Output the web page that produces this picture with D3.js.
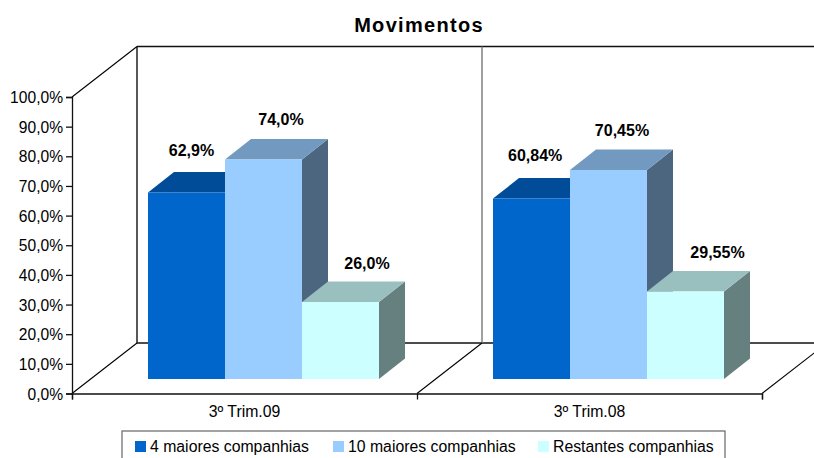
<!DOCTYPE html>
<html><head><meta charset="utf-8">
<script src="https://cdn.jsdelivr.net/npm/d3@7/dist/d3.min.js"></script>
<style>html,body{margin:0;padding:0;background:#fff;overflow:hidden}svg{display:block}text{font-family:"Liberation Sans",Arial,sans-serif;fill:#000}</style>
</head><body><svg id="c" width="814" height="458"></svg>
<script>
const categories = ["3º Trim.09", "3º Trim.08"];
const seriesNames = ["4 maiores companhias", "10 maiores companhias", "Restantes companhias"];
const series4 = [62.9, 60.84];
const series10 = [74.0, 70.45];
const seriesRest = [26.0, 29.55];
const labels4 = ["62,9%", "60,84%"];
const labels10 = ["74,0%", "70,45%"];
const labelsRest = ["26,0%", "29,55%"];
const yTicks = [0,10,20,30,40,50,60,70,80,90,100];

const frontColors = ["#0066CC", "#99CCFF", "#CCFFFF"];
const topColors = ["#004C99", "#7299BF", "#99BFBF"];
const sideColors = ["#003D7A", "#4D6680", "#668080"];
// hand-placed label nudges of the original, per [category][series]
const labelDx = [[5, 17.5, 26.5], [3.7, 13.5, 32]];
const labelDy = [[-42, -40, -39], [-43, -40, -39]];
const legendLeft = [135, 333, 538];

const svg = d3.select("#c");
const W = 814;
const wall = {dx: 65, dy: -50.5};
const floorY = 393.5, topY = 97;
const y = d3.scaleLinear().domain([0, 100]).range([floorY, topY]);
const x = d3.scaleBand().domain(categories).range([72, 762]);
const xEdge = d3.scaleLinear().domain([0, categories.length]).range([72, 762]);
const inner = d3.scaleBand().domain(d3.range(3)).range([57, x.bandwidth() - 57]);
const barShift = {dx: 19, dy: -14.5};
const barDepth = {dx: 26, dy: -20.5};

const ln = (x1,y1,x2,y2,c,w) => svg.append("line").attr("x1",x1).attr("y1",y1).attr("x2",x2).attr("y2",y2)
  .attr("stroke",c).attr("stroke-width",w);

// walls
const yBack = v => y(v) + wall.dy;
ln(72 + wall.dx, yBack(100), W, yBack(100), "#111", 1.4);
ln(72 + wall.dx, yBack(0), W, yBack(0), "#111", 1.4);
ln(72 + wall.dx, yBack(100), 72 + wall.dx, yBack(0), "#111", 1.4);
ln(xEdge(1) + wall.dx, yBack(100), xEdge(1) + wall.dx, yBack(0), "#777", 1.4);
ln(72, y(100), 72 + wall.dx, yBack(100), "#000", 1.1);
d3.range(categories.length + 1).forEach(i =>
  ln(xEdge(i), y(0), xEdge(i) + wall.dx, yBack(0), "#000", 1.1));

// bars
const values = [series4, series10, seriesRest];
const poly = (pts, c) => svg.append("polygon").attr("points", pts.map(p => p.join(",")).join(" ")).attr("fill", c);
categories.forEach((cat, ci) => {
  values.forEach((vals, si) => {
    const x0 = x(cat) + inner(si) + barShift.dx, x1 = x0 + inner.bandwidth();
    const yb = y(0) + barShift.dy, yt = y(vals[ci]) + barShift.dy;
    const d = barDepth;
    poly([[x1,yt],[x1+d.dx,yt+d.dy],[x1+d.dx,yb+d.dy],[x1,yb]], sideColors[si]);
    poly([[x0,yt],[x0+d.dx,yt+d.dy],[x1+d.dx,yt+d.dy],[x1,yt]], topColors[si]);
    poly([[x0,yt],[x1,yt],[x1,yb],[x0,yb]], frontColors[si]);
  });
});

// axes
const yAxis = d3.axisLeft(y).tickValues(yTicks).tickSize(6).tickPadding(3)
  .tickFormat(v => d3.format(".1f")(v).replace(".", ",") + "%");
const gy = svg.append("g").attr("transform", "translate(72,0)").call(yAxis);
const gxE = svg.append("g").attr("transform", `translate(0,${floorY})`)
  .call(d3.axisBottom(xEdge).tickValues(d3.range(categories.length + 1)).tickSize(6).tickFormat(""));
const gx = svg.append("g").attr("transform", `translate(0,${floorY})`)
  .call(d3.axisBottom(x).tickSize(0).tickPadding(12));
[gy, gxE, gx].forEach(g => { g.selectAll(".domain,.tick line").attr("stroke", "#111").attr("stroke-width", 1.3); });
gx.select(".domain").remove();
gy.selectAll("text").style("font-size", "15.6px").attr("fill", "#000").attr("dy", "0.36em");
gx.selectAll("text").style("font-size", "15.8px").attr("fill", "#000");

// value labels
const lab = [labels4, labels10, labelsRest];
categories.forEach((cat, ci) => lab.forEach((ls, si) => {
  svg.append("text")
    .attr("x", x(cat) + inner(si) + barShift.dx + inner.bandwidth() / 2 + labelDx[ci][si])
    .attr("y", y(values[si][ci]) + barShift.dy + labelDy[ci][si])
    .attr("dy", "0.36em").attr("text-anchor", "middle")
    .style("font-size", "16px").style("font-weight", "bold").text(ls[ci]);
}));

// title
svg.append("text").attr("x", 419).attr("y", 32).attr("text-anchor", "middle")
  .style("font-size", "20px").style("font-weight", "bold").style("letter-spacing", "1.3px").text("Movimentos");

// legend
svg.append("rect").attr("x", 122).attr("y", 431).attr("width", 603).attr("height", 40)
  .attr("fill", "#fff").attr("stroke", "#666").attr("stroke-width", 1.2);
seriesNames.forEach((n, i) => {
  svg.append("rect").attr("x", legendLeft[i]).attr("y", 441).attr("width", 11).attr("height", 11).attr("fill", frontColors[i]);
  svg.append("text").attr("x", legendLeft[i] + 15).attr("y", 452).style("font-size", "15.8px").text(n);
});
</script></body></html>
